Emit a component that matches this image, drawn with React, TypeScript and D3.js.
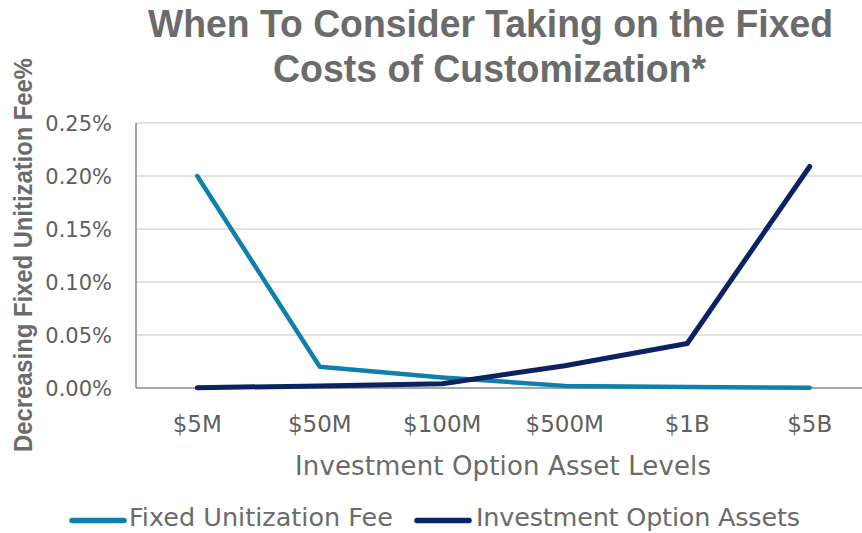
import React from "react";
import * as d3 from "d3";

const categories = ["$5M", "$50M", "$100M", "$500M", "$1B", "$5B"];
// values in percent
const fixedUnitizationFee = [0.2, 0.02, 0.01, 0.002, 0.001, 0.0002];
const investmentOptionAssets = [0.0002, 0.002, 0.004, 0.021, 0.042, 0.209];
const yTicks = [0, 0.05, 0.1, 0.15, 0.2, 0.25];

const W = 862;
const H = 533;
const margin = { left: 136, top: 123, bottom: 388, right: 871 };

const FEE_COLOR = "#0f80ab";
const ASSET_COLOR = "#0b2361";
const TEXT = "#6b6b6b";
const TICK = "#5f5f5f";
const BOLD = "'Liberation Sans', Arial, sans-serif";
const FONT = "'DejaVu Sans', 'Liberation Sans', sans-serif";

export default function App() {
  const x = d3.scaleBand<string>().domain(categories).range([margin.left, margin.right]);
  const y = d3.scaleLinear().domain([0, 0.25]).range([margin.bottom, margin.top]);
  const cx = (c: string) => (x(c) ?? 0) + x.bandwidth() / 2;

  const line = d3
    .line<number>()
    .x((_, i) => cx(categories[i]))
    .y((d) => y(d));

  return (
    <svg width={W} height={H} style={{ position: "absolute", left: 0, top: 0, background: "#fff" }}>
      <g fontFamily={BOLD} fontWeight="bold" fontSize={38} fill={TEXT} textAnchor="middle">
        <text x={490.5} y={37} textLength={685} lengthAdjust="spacingAndGlyphs">
          When To Consider Taking on the Fixed
        </text>
        <text x={489.5} y={81.5} textLength={433} lengthAdjust="spacingAndGlyphs">
          Costs of Customization*
        </text>
      </g>

      {yTicks.map((t) => (
        <g key={t}>
          {t > 0 && (
            <line x1={margin.left} x2={W} y1={y(t)} y2={y(t)} stroke="#d9d9d9" strokeWidth={1.5} />
          )}
          <text
            x={112}
            y={y(t) + 7.5}
            textAnchor="end"
            fontFamily={FONT}
            fontSize={21}
            fill={TICK}
          >
            {t.toFixed(2)}%
          </text>
        </g>
      ))}

      <line x1={margin.left} x2={margin.left} y1={margin.top} y2={margin.bottom} stroke="#888" strokeWidth={1.5} />
      <line x1={margin.left} x2={W} y1={margin.bottom} y2={margin.bottom} stroke="#888" strokeWidth={1.5} />

      {categories.map((c) => (
        <text
          key={c}
          x={cx(c)}
          y={432}
          textAnchor="middle"
          fontFamily={FONT}
          fontSize={23}
          fill={TICK}
        >
          {c}
        </text>
      ))}

      <path d={line(fixedUnitizationFee) ?? ""} fill="none" stroke={FEE_COLOR} strokeWidth={4.5} strokeLinecap="round" strokeLinejoin="round" />
      <path d={line(investmentOptionAssets) ?? ""} fill="none" stroke={ASSET_COLOR} strokeWidth={5} strokeLinecap="round" strokeLinejoin="round" />

      <text
        transform={`translate(31.5, 255) rotate(-90)`}
        textAnchor="middle"
        fontFamily={BOLD}
        fontWeight="bold"
        fontSize={25}
        fill={TEXT}
        textLength={394}
        lengthAdjust="spacingAndGlyphs"
      >
        Decreasing Fixed Unitization Fee%
      </text>

      <text x={503} y={475} textAnchor="middle" fontFamily={FONT} fontSize={26} fill={TEXT} textLength={416} lengthAdjust="spacing">
        Investment Option Asset Levels
      </text>

      <g fontFamily={FONT} fontSize={25.5} fill={TEXT}>
        <line x1={72} x2={124} y1={520.5} y2={520.5} stroke={FEE_COLOR} strokeWidth={5.5} strokeLinecap="round" />
        <text x={129} y={526} textLength={264} lengthAdjust="spacing">
          Fixed Unitization Fee
        </text>
        <line x1={417} x2={469} y1={520.5} y2={520.5} stroke={ASSET_COLOR} strokeWidth={5.5} strokeLinecap="round" />
        <text x={476} y={526} textLength={324} lengthAdjust="spacing">
          Investment Option Assets
        </text>
      </g>
    </svg>
  );
}
